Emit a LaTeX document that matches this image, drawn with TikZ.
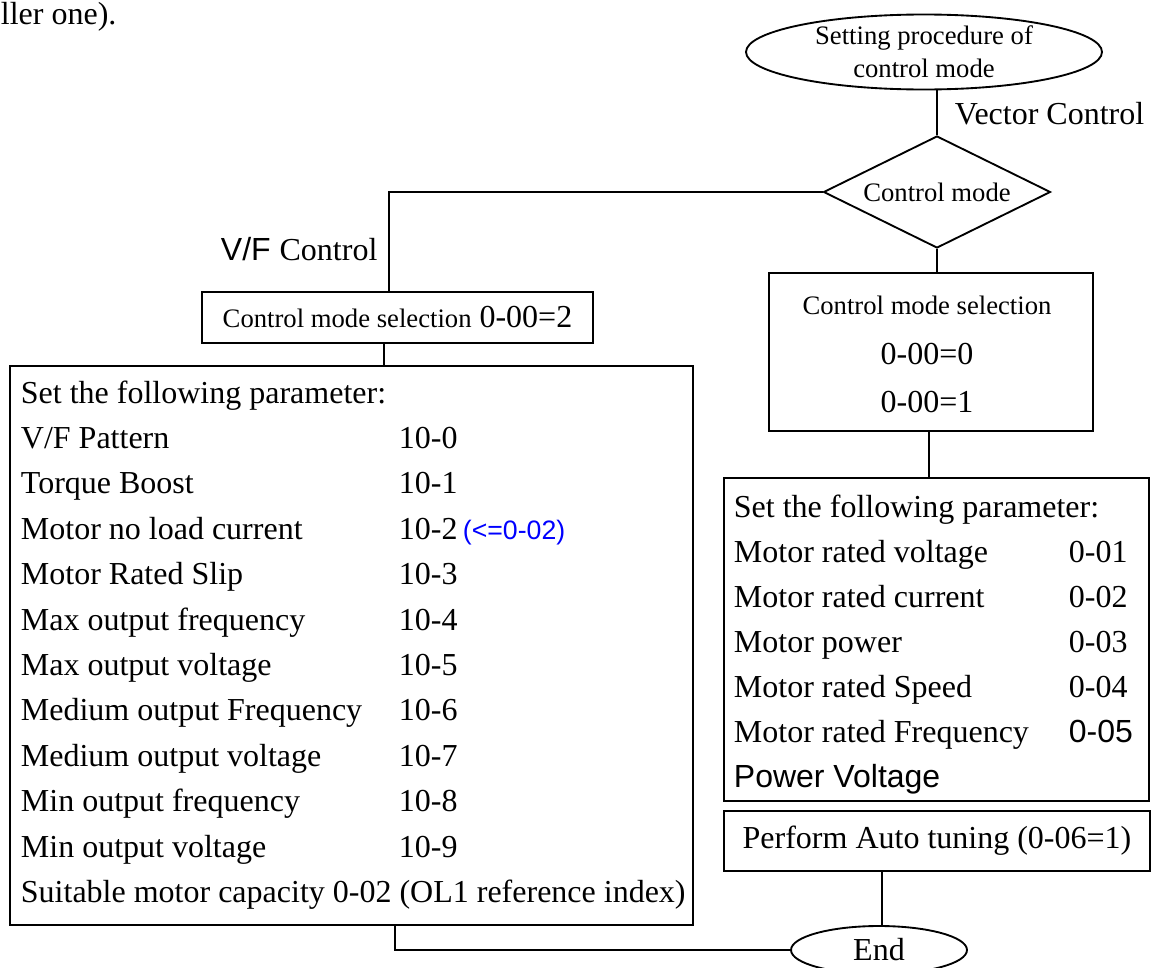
\documentclass[tikz,border=0pt]{standalone}
\usepackage{fontspec}
\setmainfont{Liberation Serif}
\setsansfont{Liberation Sans}
\usepackage{tikz}
\usetikzlibrary{shapes.geometric}
\newcommand{\lblfont}{\fontsize{20}{25}\selectfont}
\newcommand{\txtfont}{\fontsize{24}{28}\selectfont}

\begin{document}
\begin{tikzpicture}[x=0.75pt, y=-0.75pt, line width=1.4pt,
    txt/.style={font=\txtfont},
    lbl/.style={font=\lblfont},
    row/.style={anchor=base west, inner sep=0pt, txt},
    box/.style={draw, rectangle, inner sep=0pt}]
    \useasboundingbox (0,0) rectangle (1152,967);
    \node[row] (prev) at (0,24) {ller one).};

    % start and decision
    \node[draw, ellipse, inner sep=0pt, minimum width=267pt, minimum height=56.25pt, lbl, align=center] (start) at (924,52) {Setting procedure of\\control mode};
    \node[draw, diamond, aspect=2, inner sep=0pt, minimum width=170.25pt, minimum height=84pt, lbl] (mode) at (937,192) {Control mode};
    \node[row] (veclab) at (954,124) {Vector Control};
    \node[row] (vflab) at (220,260) {\sffamily V/F \rmfamily Control};

    % V/F branch
    \node[box, minimum width=293.25pt, minimum height=38.25pt, txt] (vfsel) at (397.5,317.5) {{\lblfont Control mode selection} 0-00=2};
    \node[box, minimum width=512.25pt, minimum height=419.25pt] (vfpar) at (351.5,645.5) {};
    \node[row] (vf0) at (20,403) {Set the following parameter:};
    \foreach \name/\num [count=\i] in {{V/F Pattern}/10-0, Torque Boost/10-1, Motor no load current/10-2,
        Motor Rated Slip/10-3, Max output frequency/10-4, Max output voltage/10-5,
        Medium output Frequency/10-6, Medium output voltage/10-7, Min output frequency/10-8,
        Min output voltage/10-9} {
      \node[row] (vf\i) at (20,{403+45.4*\i}) {\name};
      \node[row] (vfn\i) at (398,{403+45.4*\i}) {\num};
    }
    \node[row, blue, font=\lblfont\sffamily] (lim) at (462,539) {(<=0-02)};
    \node[row] (vf11) at (20,902) {Suitable motor capacity 0-02 (OL1 reference index)};

    % vector branch
    \node[box, minimum width=243pt, minimum height=118.5pt] (vecsel) at (931,352) {};
    \node[lbl, anchor=base, inner sep=0pt] (vs0) at (927,314) {Control mode selection};
    \node[txt, anchor=base, inner sep=0pt] (vs1) at (927,364) {0-00=0};
    \node[txt, anchor=base, inner sep=0pt] (vs2) at (927,412) {0-00=1};
    \node[box, minimum width=318.75pt, minimum height=242.25pt] (vecpar) at (936.5,639.5) {};
    \node[row] (vp0) at (733,517) {Set the following parameter:};
    \foreach \name/\num [count=\i] in {Motor rated voltage/0-01, Motor rated current/0-02,
        Motor power/0-03, Motor rated Speed/0-04, Motor rated Frequency/{\sffamily 0-05}} {
      \node[row] (vp\i) at (733,{517+45*\i}) {\name};
      \node[row] (vpn\i) at (1068,{517+45*\i}) {\num};
    }
    \node[row, font=\txtfont\sffamily] (vp6) at (733,787) {Power Voltage};
    \node[box, minimum width=319.5pt, minimum height=45pt, txt] (tune) at (937,841) {Perform Auto tuning (0-06=1)};
    \node[draw, ellipse, inner sep=0pt, minimum width=132pt, minimum height=36pt, txt] (end) at (879,950) {End};

    % connectors
    \draw (mode.north) -- (mode.north |- start.south);
    \draw (mode.west) -| ([xshift=-6.4pt]vfsel.north);
    \draw ([xshift=-10.1pt]vfsel.south) -- ([xshift=-10.1pt]vfsel.south |- vfpar.north);
    \draw (mode.south) -- (mode.south |- vecsel.north);
    \draw ([xshift=-1.5pt]vecsel.south) -- ([xshift=-1.5pt]vecsel.south |- vecpar.north);
    \draw ([xshift=2.25pt]end.north) -- ([xshift=2.25pt]end.north |- tune.south);
    \draw ([xshift=32.6pt]vfpar.south) |- (end.west);
\end{tikzpicture}
\end{document}
